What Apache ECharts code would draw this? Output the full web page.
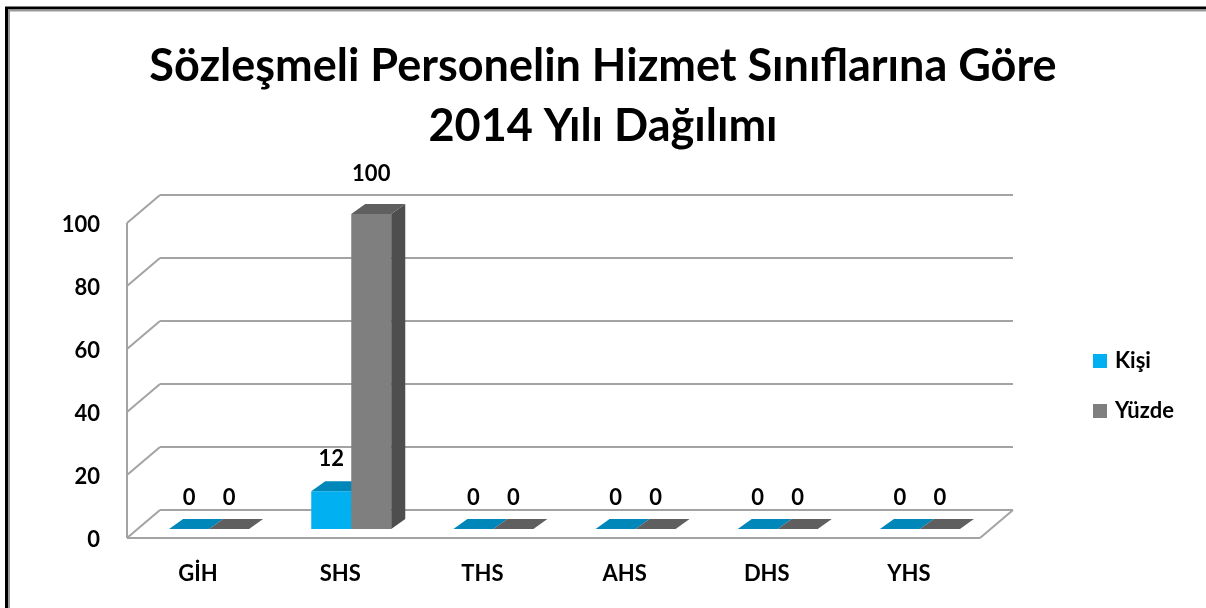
<!DOCTYPE html>
<html>
<head>
<meta charset="utf-8">
<script src="https://cdn.jsdelivr.net/npm/echarts@6/dist/echarts.min.js"></script>
<style>
html,body{margin:0;padding:0;background:#fff;overflow:hidden;}
#chart{width:1206px;height:608px;}
</style>
</head>
<body>
<div id="chart"></div>
<script>
// ---- data ----
const titleText = 'Sözleşmeli Personelin Hizmet Sınıflarına Göre\n2014 Yılı Dağılımı';
const categories = ['GİH', 'SHS', 'THS', 'AHS', 'DHS', 'YHS'];
const seriesNames = ['Kişi', 'Yüzde'];
const kisiValues = [0, 12, 0, 0, 0, 0];
const yuzdeValues = [0, 100, 0, 0, 0, 0];
const yTicks = [0, 20, 40, 60, 80, 100];

// ---- styling constants ----
const FONT = 'Lato, "Open Sans", sans-serif';
const GRID_COLOR = '#a3a3a3';
const BACK = [22, -19];   // offset of back wall from bar plane
const FRONT = [-11, 9];   // offset of front edge from bar plane
const DEPTH = [14, -10];  // bar depth offset
const BAR_W = 40;

const chart = echarts.init(document.getElementById('chart'), null, {renderer: 'canvas'});

function line(x1, y1, x2, y2) {
  return {type: 'line', shape: {x1, y1, x2, y2}, style: {stroke: GRID_COLOR, lineWidth: 2}, silent: true};
}

function wallRender(params, api) {
  const cs = params.coordSys;
  const L = cs.x, R = cs.x + cs.width;
  const v = api.value(1);
  const y = api.coord([0, v])[1];
  const children = [
    line(L + BACK[0], y + BACK[1], R + BACK[0], y + BACK[1]),
    line(L + FRONT[0], y + FRONT[1], L + BACK[0], y + BACK[1]),
    {type: 'text', silent: true, style: {
      text: String(v), x: L + FRONT[0] - 27, y: y + FRONT[1] + 2,
      align: 'right', verticalAlign: 'middle',
      fill: '#000', font: 'bold 22px ' + FONT
    }}
  ];
  if (params.dataIndex === 0) {
    const y0 = api.coord([0, yTicks[0]])[1];
    const yMax = api.coord([0, yTicks[yTicks.length - 1]])[1];
    children.push(line(L + FRONT[0], yMax + FRONT[1], L + FRONT[0], y0 + FRONT[1]));
    children.push(line(L + FRONT[0], y0 + FRONT[1], R + FRONT[0], y0 + FRONT[1]));
    children.push(line(R + FRONT[0], y0 + FRONT[1], R + BACK[0], y0 + BACK[1]));
  }
  return {type: 'group', children};
}

function makeBarRender(side, faceColor, topColor, sideColor) {
  return function (params, api) {
    const i = api.value(0), v = api.value(1);
    const base = api.coord([i, 0]);
    const top = api.coord([i, v]);
    const x0 = side < 0 ? base[0] - BAR_W : base[0];
    const x1 = x0 + BAR_W;
    const yb = base[1], yt = top[1];
    const dx = DEPTH[0], dy = DEPTH[1];
    const children = [];
    if (yb - yt > 0.5) {
      children.push({type: 'rect', shape: {x: x0, y: yt, width: BAR_W, height: yb - yt}, style: {fill: faceColor}});
      children.push({type: 'polygon', shape: {points: [[x1, yt], [x1 + dx, yt + dy], [x1 + dx, yb + dy], [x1, yb]]}, style: {fill: sideColor}});
    }
    children.push({type: 'polygon', shape: {points: [[x0, yt], [x1, yt], [x1 + dx, yt + dy], [x0 + dx, yt + dy]]}, style: {fill: topColor}});
    // label sits a little higher for taller bars, as in the reference
    const labelY = yt - 31 - (yb - yt) * 0.03;
    children.push({type: 'text', style: {
      text: String(v), x: (x0 + x1) / 2, y: labelY,
      align: 'center', verticalAlign: 'middle',
      fill: '#000', font: 'bold 22px ' + FONT
    }});
    return {type: 'group', children};
  };
}

const option = {
  animation: false,
  backgroundColor: '#fff',
  title: {
    text: titleText,
    left: 'center',
    top: 31,
    textStyle: {fontFamily: FONT, fontWeight: 'bold', fontSize: 45, lineHeight: 60, color: '#000'}
  },
  legend: {
    orient: 'vertical',
    left: 1093,
    top: 350,
    padding: 0,
    icon: 'rect',
    itemWidth: 14,
    itemHeight: 14,
    itemGap: 28,
    data: seriesNames,
    textStyle: {fontFamily: FONT, fontWeight: 'bold', fontSize: 22, color: '#000', padding: [0, 0, 0, 3]}
  },
  grid: {left: 138, right: 215, top: 214, bottom: 79},
  xAxis: {
    type: 'category',
    data: categories,
    axisLine: {show: false},
    axisTick: {show: false},
    splitLine: {show: false},
    axisLabel: {
      margin: 34, color: '#000', fontFamily: FONT, fontWeight: 'bold', fontSize: 22,
      padding: [0, 22, 0, 0]
    }
  },
  yAxis: {
    type: 'value',
    min: 0, max: 100, interval: 20,
    axisLine: {show: false},
    axisTick: {show: false},
    splitLine: {show: false},
    axisLabel: {show: false}
  },
  graphic: [
    {type: 'polyline', shape: {points: [[6.5, 700], [6.5, 8], [1300, 8]]}, style: {fill: null, stroke: '#000', lineWidth: 3}, silent: true},
    {type: 'polyline', shape: {points: [[9, 700], [9, 10.5], [1300, 10.5]]}, style: {fill: null, stroke: '#9a9a9a', lineWidth: 2}, silent: true}
  ],
  series: [
    {
      type: 'custom', name: '_walls', z: 1,
      renderItem: wallRender,
      data: yTicks.map(v => [0, v]),
      encode: {x: 0, y: 1},
      silent: true
    },
    {
      type: 'custom', name: seriesNames[0], z: 2,
      itemStyle: {color: '#00b0f0'},
      renderItem: makeBarRender(-1, '#00b0f0', '#0087ba', '#0087ba'),
      data: kisiValues.map((v, i) => [i, v]),
      encode: {x: 0, y: 1}
    },
    {
      type: 'custom', name: seriesNames[1], z: 3,
      itemStyle: {color: '#7f7f7f'},
      renderItem: makeBarRender(1, '#7f7f7f', '#5f5f5f', '#4e4e4e'),
      data: yuzdeValues.map((v, i) => [i, v]),
      encode: {x: 0, y: 1}
    }
  ]
};
chart.setOption(option);
</script>
</body>
</html>
